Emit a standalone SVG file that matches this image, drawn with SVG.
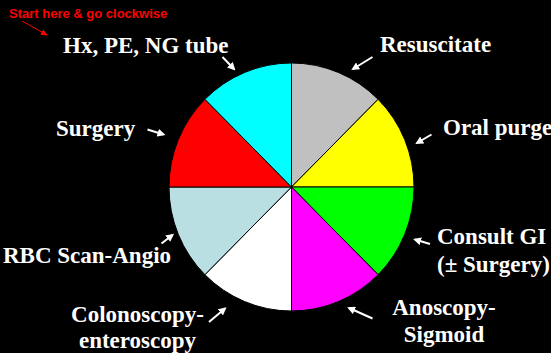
<svg xmlns="http://www.w3.org/2000/svg" width="551" height="353" viewBox="0 0 551 353">
<defs>
<style>
.lbl{font-family:"Liberation Serif","Times New Roman",serif;font-weight:bold;font-size:23px;fill:#FFFFFF}
.wedge{stroke:#000000;stroke-width:1}
.arr{stroke:#FFFFFF;stroke-width:2;fill:none;marker-end:url(#wh)}
.note{font-family:"Liberation Sans",Arial,sans-serif;font-weight:bold;font-size:13px;fill:#FF0000}
</style>
<marker id="wh" markerWidth="4" markerHeight="4" refX="3" refY="2" orient="auto" markerUnits="strokeWidth">
<path d="M0,0 L4,2 L0,4 Z" fill="#FFFFFF"/>
</marker>
<marker id="rh" markerWidth="7" markerHeight="6" refX="6" refY="3" orient="auto" markerUnits="userSpaceOnUse">
<path d="M0,0 L7,3 L0,6 Z" fill="#FF0000"/>
</marker>
</defs>
<rect width="551" height="353" fill="#000000"/>
<g id="note">
<text class="note" x="9" y="18">Start here &amp; go clockwise</text>
</g>
<g id="wheel">
<path id="resuscitate-wedge" class="wedge" fill="#C0C0C0" d="M291.5,187 L291.5,63 A122.5,124 0 0 1 378.1,99.3 Z"/>
<path id="oral-wedge" class="wedge" fill="#FFFF00" d="M291.5,187 L378.1,99.3 A122.5,124 0 0 1 414,187 Z"/>
<path id="consult-wedge" class="wedge" fill="#00FF00" d="M291.5,187 L414,187 A122.5,124 0 0 1 378.1,274.7 Z"/>
<path id="anoscopy-wedge" class="wedge" fill="#FF00FF" d="M291.5,187 L378.1,274.7 A122.5,124 0 0 1 291.5,311 Z"/>
<path id="colonoscopy-wedge" class="wedge" fill="#FFFFFF" d="M291.5,187 L291.5,311 A122.5,124 0 0 1 204.9,274.7 Z"/>
<path id="rbc-wedge" class="wedge" fill="#BADFE2" d="M291.5,187 L204.9,274.7 A122.5,124 0 0 1 169,187 Z"/>
<path id="surgery-wedge" class="wedge" fill="#FF0000" d="M291.5,187 L169,187 A122.5,124 0 0 1 204.9,99.3 Z"/>
<path id="hx-wedge" class="wedge" fill="#00FFFF" d="M291.5,187 L204.9,99.3 A122.5,124 0 0 1 291.5,63 Z"/>
</g>
<g id="n-hx"><text class="lbl" x="63" y="53">Hx, PE, NG tube</text></g>
<g id="n-resuscitate"><text class="lbl" x="380" y="52">Resuscitate</text></g>
<g id="n-oral"><text class="lbl" x="443" y="135">Oral purge</text></g>
<g id="n-consult"><text class="lbl" x="437" y="244">Consult GI</text><text class="lbl" x="437" y="272">(± Surgery)</text></g>
<g id="n-anoscopy"><text class="lbl" text-anchor="middle" x="444" y="315">Anoscopy-</text><text class="lbl" text-anchor="middle" x="444" y="342">Sigmoid</text></g>
<g id="n-colonoscopy"><text class="lbl" text-anchor="middle" x="137.5" y="322">Colonoscopy-</text><text class="lbl" text-anchor="middle" x="137.5" y="348">enteroscopy</text></g>
<g id="n-rbc"><text class="lbl" x="3" y="263">RBC Scan-Angio</text></g>
<g id="n-surgery"><text class="lbl" x="56" y="136">Surgery</text></g>
<g id="connectors">
<line stroke="#FF0000" stroke-width="1" marker-end="url(#rh)" x1="22" y1="21" x2="47" y2="35"/>
<line class="arr" x1="222.5" y1="57" x2="234" y2="69"/>
<line class="arr" x1="372.5" y1="57" x2="353" y2="69"/>
<line class="arr" x1="431.5" y1="134.5" x2="417" y2="143"/>
<line class="arr" x1="430" y1="244" x2="415" y2="239.5"/>
<line class="arr" x1="372.5" y1="318.5" x2="349" y2="308"/>
<line class="arr" x1="209" y1="322" x2="225" y2="308.5"/>
<line class="arr" x1="161.5" y1="243.5" x2="172.5" y2="235"/>
<line class="arr" x1="147.5" y1="129.5" x2="163.5" y2="134.5"/>
</g>
</svg>
